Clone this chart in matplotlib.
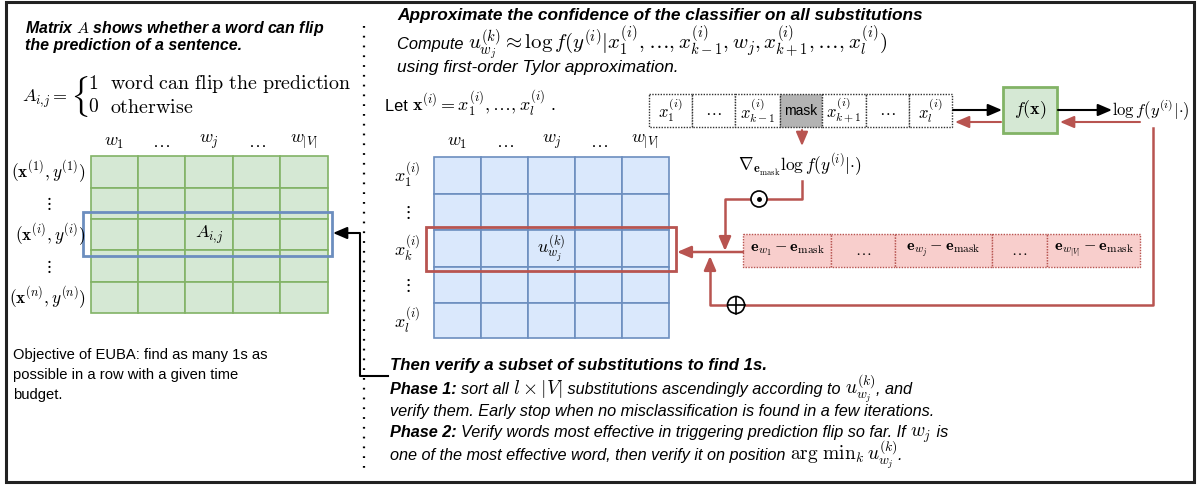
import matplotlib
matplotlib.use('Agg')
import matplotlib.pyplot as plt
from matplotlib.patches import Rectangle, Circle

plt.rcParams['font.family'] = ['Liberation Sans', 'DejaVu Sans']
plt.rcParams['mathtext.fontset'] = 'cm'

# text content
left_title = 'Matrix $A$ shows whether a word can flip'
left_title2 = 'the prediction of a sentence.'
case_values = ['1', '0']
case_texts = [r'$\mathrm{word\ can\ flip\ the\ prediction}$', r'$\mathrm{otherwise}$']
word_cols = [r'$w_1$', r'$\ldots$', r'$w_j$', r'$\ldots$', r'$w_{|V|}$']
sample_rows = [r'$(\mathbf{x}^{(1)},y^{(1)})$', r'$\vdots$', r'$(\mathbf{x}^{(i)},y^{(i)})$',
               r'$\vdots$', r'$(\mathbf{x}^{(n)},y^{(n)})$']
position_rows = [r'$x_1^{(i)}$', r'$\vdots$', r'$x_k^{(i)}$', r'$\vdots$', r'$x_l^{(i)}$']
tokens = [r'$x_1^{(i)}$', r'$\ldots$', r'$x_{k-1}^{(i)}$', 'mask', r'$x_{k+1}^{(i)}$', r'$\ldots$', r'$x_l^{(i)}$']
diffs = [r'$\mathbf{e}_{w_1}-\mathbf{e}_{\mathrm{mask}}$', r'$\ldots$',
         r'$\mathbf{e}_{w_j}-\mathbf{e}_{\mathrm{mask}}$', r'$\ldots$',
         r'$\mathbf{e}_{w_{|V|}}-\mathbf{e}_{\mathrm{mask}}$']
objective = ['Objective of EUBA: find as many 1s as', 'possible in a row with a given time', 'budget.']

# colours
GREEN_FC, GREEN_EC = '#d5e8d4', '#82b366'
BLUE_FC, BLUE_EC = '#dae8fc', '#6c8ebf'
PINK_FC, RED = '#f8cecc', '#b85450'

fig = plt.figure(figsize=(11.99, 4.86), dpi=100)
ax = fig.add_axes([0, 0, 1, 1])
ax.set_xlim(0, 1199)
ax.set_ylim(486, 0)
ax.axis('off')
renderer = fig.canvas.get_renderer()

BI = dict(fontweight='bold', fontstyle='italic')
IT = dict(fontstyle='italic')
MATH = dict(fontsize=14)


def fit(s, kw, width):
    """Font size that makes a text span the given pixel width."""
    t = ax.text(0, 0, s, fontsize=10, **kw)
    w = t.get_window_extent(renderer).width
    t.remove()
    return 10 * width / w


def runs(x, y, parts, size=11.8):
    """Draw a row of differently styled texts on one baseline."""
    for s, kw in parts:
        opts = dict(fontsize=size, va='baseline', ha='left')
        opts.update(kw)
        t = ax.text(x, y, s, **opts)
        x += t.get_window_extent(renderer).width
    return x


def grid(cols, rows, fc, ec, ls='-', lw=1.2):
    for i in range(len(cols) - 1):
        for j in range(len(rows) - 1):
            ax.add_patch(Rectangle((cols[i], rows[j]), cols[i + 1] - cols[i], rows[j + 1] - rows[j],
                                   fc=fc, ec=ec, lw=lw, ls=ls))


def arrow(x0, y0, x1, y1, color='black', lw=1.5):
    ax.annotate('', xy=(x1, y1), xytext=(x0, y0),
                arrowprops=dict(arrowstyle='-|>,head_length=0.7,head_width=0.3', color=color,
                                lw=lw, shrinkA=0, shrinkB=0, mutation_scale=12))


def centers(edges):
    return [(a + b) / 2 for a, b in zip(edges[:-1], edges[1:])]


# outer frame and separator
ax.add_patch(Rectangle((6, 2), 1188, 480, fill=False, ec='#222222', lw=2.2))
ax.plot([364, 364], [26, 472], color='black', lw=1.6, ls=(0, (0.8, 3.6)))

# ---------------- left panel ----------------
ax.text(25, 33, left_title, fontsize=fit(left_title, BI, 300), va='baseline', **BI)
ax.text(25, 50, left_title2, fontsize=fit(left_title2, BI, 218), va='baseline', **BI)

ax.text(22, 99, r'$A_{i{,}j}=$', fontsize=13, va='center', ha='left')
ax.text(70, 96, r'$\{$', fontsize=25, va='center', ha='left')
for k, (v, t) in enumerate(zip(case_values, case_texts)):
    yy = 84 + 23 * k
    ax.text(88, yy, r'$\mathrm{%s}$' % v, fontsize=14, va='center', ha='left')
    ax.text(110, yy, t, fontsize=fit(case_texts[0], {}, 242), va='center', ha='left')

g_cols = [91, 138, 185, 233, 280, 328]
g_rows = [156, 188, 219, 250, 282, 313]
grid(g_cols, g_rows, GREEN_FC, GREEN_EC)
for cx, lab in zip(centers(g_cols), word_cols):
    ax.text(cx, 142, lab, fontsize=13, ha='center', va='center')
for cy, lab in zip(centers(g_rows), sample_rows):
    if 'vdots' in lab:
        ax.text(48, cy, lab, fontsize=12.5, ha='center', va='center')
    else:
        ax.text(86, cy, lab, fontsize=12.5, ha='right', va='center')
ax.text(centers(g_cols)[2], centers(g_rows)[2], r'$A_{i{,}j}$', fontsize=13, ha='center', va='center')
ax.add_patch(Rectangle((83, 212), 249, 44, fill=False, ec=BLUE_EC, lw=2))

obj_size = fit(objective[0], {}, 255)
for k, line in enumerate(objective):
    ax.text(13, 359 + 20 * k, line, fontsize=obj_size, va='baseline', ha='left')

# black connector from bottom text to selected row
ax.plot([388, 360, 360, 345], [376, 376, 233, 233], color='black', lw=1.5)
arrow(346, 233, 333, 233)

# ---------------- right panel ----------------
head = 'Approximate the confidence of the classifier on all substitutions'
ax.text(397, 20, head, fontsize=fit(head, BI, 528), va='baseline', **BI)
xx = runs(397, 49, [('Compute ', IT)])
formula = r'$u_{w_j}^{(k)}\approx\log f(y^{(i)}|x_1^{(i)},\ldots,x_{k-1}^{(i)},w_j,x_{k+1}^{(i)},\ldots,x_l^{(i)})$'
ax.text(xx, 49, formula, fontsize=fit(formula, {}, 888 - xx), va='baseline', ha='left')
using = 'using first-order Tylor approximation.'
ax.text(397, 72, using, fontsize=fit(using, IT, 283), va='baseline', **IT)
xx = runs(385, 111, [('Let ', {})])
ax.text(xx, 111, r'$\mathbf{x}^{(i)}=x_1^{(i)},\ldots,x_l^{(i)}$ .', fontsize=13, va='baseline', ha='left')

# token sequence
t_cols = [649, 692, 735, 780, 822, 866, 909, 952]
t_top, t_bot = 94, 127
for i, lab in enumerate(tokens):
    masked = lab == 'mask'
    ax.add_patch(Rectangle((t_cols[i], t_top), t_cols[i + 1] - t_cols[i], t_bot - t_top,
                           fc='#b3b3b3' if masked else 'white', ec='#333333', lw=1, ls=(0, (1, 1))))
    ax.text((t_cols[i] + t_cols[i + 1]) / 2, (t_top + t_bot) / 2, lab,
            fontsize=10 if masked else 12, ha='center', va='center')

# classifier box
ax.add_patch(Rectangle((1003, 87), 54, 46, fc=GREEN_FC, ec=GREEN_EC, lw=2))
ax.text(1030, 110, r'$f(\mathbf{x})$', fontsize=13, ha='center', va='center')
arrow(953, 110, 1002, 110)
arrow(1001, 122, 955, 122, color=RED)
arrow(1058, 110, 1112, 110)
arrow(1140, 122, 1060, 122, color=RED)
logf = r'$\log f(y^{(i)}|{\cdot})$'
ax.text(1112, 110, logf, fontsize=fit(logf, {}, 78), ha='left', va='center')

# gradient
arrow(802, 130, 802, 146, color=RED)
ax.text(800, 165, r'$\nabla_{\mathbf{e}_{\mathrm{mask}}}\log f(y^{(i)}|{\cdot})$', fontsize=12.5,
        ha='center', va='center')
ax.plot([802, 802, 725, 725], [181, 199, 199, 240], color=RED, lw=1.8)
arrow(725, 238, 725, 251, color=RED, lw=1.8)
ax.add_patch(Circle((759, 199), 8, fc='white', ec='black', lw=1.2, zorder=5))
ax.plot([759], [199], marker='o', ms=2.5, color='black', zorder=6)

# differences of embeddings
p_cols = [743, 831, 895, 992, 1047, 1140]
p_top, p_bot = 234, 267
grid(p_cols, [p_top, p_bot], PINK_FC, RED, ls=(0, (1, 1)), lw=1)
for cx, lab in zip(centers(p_cols), diffs):
    ax.text(cx, (p_top + p_bot) / 2, lab, fontsize=11.5, ha='center', va='center')
arrow(743, 252, 677, 252, color=RED, lw=1.8)

# sum loop
ax.plot([1153, 1153, 710, 710], [128, 305, 305, 268], color=RED, lw=1.8)
arrow(710, 270, 710, 256, color=RED, lw=1.8)
ax.add_patch(Circle((736, 305), 8.5, fc='white', ec='black', lw=1.2, zorder=5))
ax.plot([727.5, 744.5], [305, 305], color='black', lw=1.2, zorder=6)
ax.plot([736, 736], [296.5, 313.5], color='black', lw=1.2, zorder=6)

# score matrix
b_cols = [434, 481, 528, 575, 622, 669]
b_rows = [157, 194, 230, 267, 303, 338]
grid(b_cols, b_rows, BLUE_FC, BLUE_EC)
for cx, lab in zip(centers(b_cols), word_cols):
    ax.text(cx, 142, lab, fontsize=13, ha='center', va='center')
for cy, lab in zip(centers(b_rows), position_rows):
    ax.text(407, cy, lab, fontsize=13, ha='center', va='center')
ax.text(centers(b_cols)[2], centers(b_rows)[2], r'$u_{w_j}^{(k)}$', fontsize=13, ha='center', va='center')
ax.add_patch(Rectangle((426, 227), 250, 44, fill=False, ec=RED, lw=2))

# verification text
then = 'Then verify a subset of substitutions to find 1s.'
ax.text(390, 370, then, fontsize=fit(then, BI, 377), va='baseline', **BI)
verify = 'verify them. Early stop when no misclassification is found in a few iterations.'
body = fit(verify, IT, 546)
ax.text(390, 416, verify, fontsize=body, va='baseline', **IT)
BIb = dict(BI, fontsize=body)
ITb = dict(IT, fontsize=body)
xx = runs(390, 394, [('Phase 1: ', BIb), ('sort all ', ITb), (r'$l\times|V|$', MATH),
                     (' substitutions ascendingly according to ', ITb)])
runs(xx, 394, [(r'$u_{w_j}^{(k)}$', MATH), (', and', ITb)])
xx = runs(390, 437, [('Phase 2: ', BIb),
                     ('Verify words most effective in triggering prediction flip so far. If ', ITb)])
runs(xx, 437, [(r'$w_j$', MATH), (' is', ITb)])
xx = runs(390, 460, [('one of the most effective word, then verify it on position ', ITb)])
runs(xx, 460, [(r'$\arg\,\mathrm{min}_k\,u_{w_j}^{(k)}$', MATH), ('.', ITb)])

fig.savefig('out.png', dpi=100)
